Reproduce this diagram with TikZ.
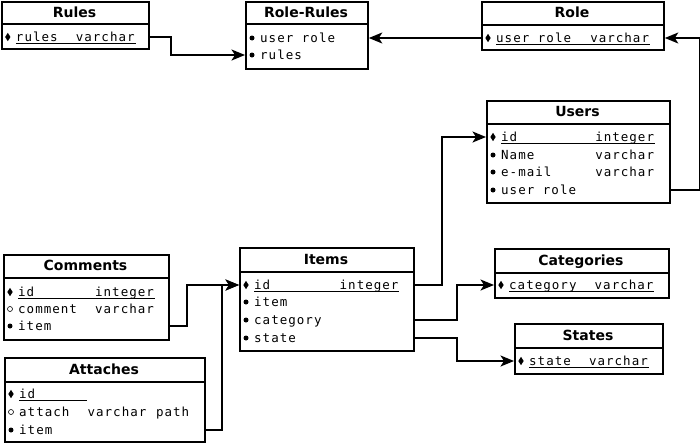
\documentclass[tikz,border=0pt]{standalone}
\usepackage{fontspec}
\setmainfont{DejaVu Sans}
\newfontfamily\erfmono{DejaVu Sans Mono}[LetterSpace=8.2]
\usetikzlibrary{arrows.meta,shapes.geometric}
\newcommand\tbl[7]{%
  \node[tbox, minimum width={#4-#2}, minimum height={#5-#3}, anchor=north west] (#1) at (#2,#3) {};
  \draw[sep] (#2,#6) -- (#4,#6);
  \node[ttitle, anchor=base] (#1-t) at ({(#2+#4)/2},{(#3+#6)/2+4.8}) {#7};
}
\newcommand\trow[5]{% name, left, y, marker, text
  \node[#4] (#1) at (#2+7,#3) {};
  \node[mono, anchor=base west] (#1-a) at (#2+15,#3+4.5) {#5};
}
\newcommand\ttype[5]{% name, left, y, col, text
  \node[mono, anchor=base west] (#1-b) at (#2+15+#4*8.55,#3+4.5) {#5};
}
\newcommand\tul[3]{% left, y, chars
  \draw[ul] (#1+15,#2+6.7) -- ++(#3*8.55,0);
}
\begin{document}
\begin{tikzpicture}[x=1pt,y=-1pt,
  tbox/.style={draw, line width=1.8pt, inner sep=0, rectangle},
  sep/.style={line width=1.8pt},
  ttitle/.style={font=\fontsize{14}{16}\selectfont\bfseries, inner sep=0},
  mono/.style={font=\fontsize{12.5}{14}\erfmono, inner sep=0},
  kd/.style={diamond, fill=black, inner sep=0, minimum width=5.5pt, minimum height=8.5pt},
  bd/.style={circle, fill=black, inner sep=0, minimum size=5pt},
  hd/.style={circle, draw=black, line width=0.6pt, inner sep=0, minimum size=5pt},
  ul/.style={line width=1.4pt},
  conn/.style={line width=1.8pt, -{Stealth[length=13.5pt,width=11pt,inset=3.5pt]}},
]
\useasboundingbox (0,0) rectangle (700,442);

% tables
\tbl{rules}{0.9}{1}{148}{48}{24}{Rules}
\tbl{rr}{245}{1}{367}{68}{24}{Role-Rules}
\tbl{role}{481}{1}{663}{49}{25}{Role}
\tbl{users}{486}{100}{669}{202}{124}{Users}
\tbl{items}{239}{247}{413}{350}{272}{Items}
\tbl{com}{3}{254}{168}{339}{278}{Comments}
\tbl{att}{4}{357}{204}{440.9}{382}{Attaches}
\tbl{cat}{494}{248}{668}{297}{273}{Categories}
\tbl{st}{514}{323}{662}{373}{348}{States}

% rows
\trow{rules-1}{0.8}{37}{kd}{rules}\ttype{rules-1}{0.8}{37}{7}{varchar}\tul{0.8}{37}{14}

\trow{rr-1}{245}{38}{bd}{user role}
\trow{rr-2}{245}{55}{bd}{rules}

\trow{role-1}{481}{38}{kd}{user role}\ttype{role-1}{481}{38}{11}{varchar}\tul{481}{38}{18}

\trow{users-1}{486}{137}{kd}{id}\ttype{users-1}{486}{137}{11}{integer}\tul{486}{137}{18}
\trow{users-2}{486}{155}{bd}{Name}\ttype{users-2}{486}{155}{11}{varchar}
\trow{users-3}{486}{172}{bd}{e-mail}\ttype{users-3}{486}{172}{11}{varchar}
\trow{users-4}{486}{190}{bd}{user role}

\trow{items-1}{239}{285}{kd}{id}\ttype{items-1}{239}{285}{10}{integer}\tul{239}{285}{17}
\trow{items-2}{239}{302}{bd}{item}
\trow{items-3}{239}{320}{bd}{category}
\trow{items-4}{239}{338}{bd}{state}

\trow{com-1}{3}{292}{kd}{id}\ttype{com-1}{3}{292}{9}{integer}\tul{3}{292}{16}
\trow{com-2}{3}{309}{hd}{comment}\ttype{com-2}{3}{309}{9}{varchar}
\trow{com-3}{3}{326}{bd}{item}

\trow{att-1}{4}{394}{kd}{id}\tul{4}{394}{8}
\trow{att-2}{4}{412}{hd}{attach}\ttype{att-2}{4}{412}{8}{varchar}
\node[mono, anchor=base west] (att-2-c) at (4+15+16*8.55,412+4.5) {path};
\trow{att-3}{4}{430}{bd}{item}

\trow{cat-1}{494}{285}{kd}{category}\ttype{cat-1}{494}{285}{10}{varchar}\tul{494}{285}{17}

\trow{st-1}{514}{361}{kd}{state}\ttype{st-1}{514}{361}{7}{varchar}\tul{514}{361}{14}

% connectors
\draw[conn] (rules-1 -| rules.east) -- ++(21,0) |- (rr-2 -| rr.west);
\draw[conn] (role-1 -| role.west) -- (rr-1 -| rr.east);
\draw[conn] (users-4 -| users.east) -- ++(29,0) |- (role-1 -| role.east);
\draw[conn] (items-1 -| items.east) -- ++(27,0) |- (users-1 -| users.west);
\draw[conn] (items-3 -| items.east) -- ++(42,0) |- (cat-1 -| cat.west);
\draw[conn] (items-4 -| items.east) -- ++(42,0) |- (st-1 -| st.west);
\draw[conn] (com-3 -| com.east) -- ++(17,0) |- (items-1 -| items.west);
\draw[conn] (att-3 -| att.east) -- ++(16,0) |- (items-1 -| items.west);
\end{tikzpicture}
\end{document}
